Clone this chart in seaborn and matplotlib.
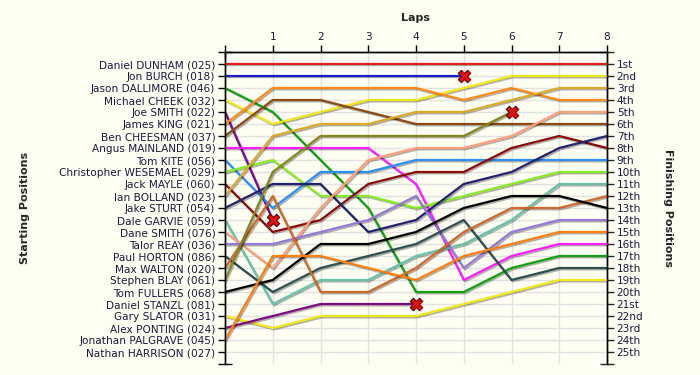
import matplotlib
matplotlib.use('Agg')
import matplotlib.pyplot as plt
import matplotlib.patheffects as pe
import seaborn as sns
import pandas as pd

# ---------------- data ----------------
laps = [0, 1, 2, 3, 4, 5, 6, 7, 8]

start_names = [
    "Daniel DUNHAM (025)", "Jon BURCH (018)", "Jason DALLIMORE (046)",
    "Michael CHEEK (032)", "Joe SMITH (022)", "James KING (021)",
    "Ben CHEESMAN (037)", "Angus MAINLAND (019)", "Tom KITE (056)",
    "Christopher WESEMAEL (029)", "Jack MAYLE (060)", "Ian BOLLAND (023)",
    "Jake STURT (054)", "Dale GARVIE (059)", "Dane SMITH (076)",
    "Talor REAY (036)", "Paul HORTON (086)", "Max WALTON (020)",
    "Stephen BLAY (061)", "Tom FULLERS (068)", "Daniel STANZL (081)",
    "Gary SLATOR (031)", "Alex PONTING (024)", "Jonathan PALGRAVE (045)",
    "Nathan HARRISON (027)",
]

finish_labels = [
    "1st", "2nd", "3rd", "4th", "5th", "6th", "7th", "8th", "9th", "10th",
    "11th", "12th", "13th", "14th", "15th", "16th", "17th", "18th", "19th",
    "20th", "21st", "22nd", "23rd", "24th", "25th",
]

# position after each lap (lap 0 = grid); a shorter list = retired at last lap
pos_dunham    = [1, 1, 1, 1, 1, 1, 1, 1, 1]
pos_burch     = [2, 2, 2, 2, 2, 2]
pos_dallimore = [3, 5, 9, 13, 20, 20, 18, 17, 17]
pos_cheek     = [4, 6, 5, 4, 4, 3, 2, 2, 2]
pos_jsmith    = [5, 14]
pos_king      = [6, 3, 3, 3, 3, 4, 3, 4, 4]
pos_cheesman  = [7, 4, 4, 5, 6, 6, 6, 6, 6]
pos_mainland  = [8, 8, 8, 8, 11, 19, 17, 16, 16]
pos_kite      = [9, 13, 10, 10, 9, 9, 9, 9, 9]
pos_wesemael  = [10, 9, 12, 12, 13, 12, 11, 10, 10]
pos_mayle     = [11, 15, 14, 11, 10, 10, 8, 7, 8]
pos_bolland   = [12, 7, 6, 6, 5, 5, 4, 3, 3]
pos_sturt     = [13, 11, 11, 15, 14, 11, 10, 8, 7]
pos_garvie    = [14, 21, 19, 19, 17, 16, 14, 11, 11]
pos_dsmith    = [15, 18, 13, 9, 8, 8, 7, 5, 5]
pos_reay      = [16, 16, 15, 14, 12, 18, 15, 14, 14]
pos_horton    = [17, 20, 18, 17, 16, 14, 19, 18, 18]
pos_walton    = [18, 12, 20, 20, 18, 15, 13, 13, 12]
pos_blay      = [19, 10, 7, 7, 7, 7, 5]
pos_fullers   = [20, 19, 16, 16, 15, 13, 12, 12, 13]
pos_slator    = [22, 23, 22, 22, 22, 21, 20, 19, 19]
pos_ponting   = [23, 22, 21, 21, 21]
pos_palgrave  = [24, 17, 17, 18, 19, 17, 16, 15, 15]

drivers = [
    ("Daniel DUNHAM (025)", pos_dunham, "#e02020"),
    ("Jon BURCH (018)", pos_burch, "#1c1ccc"),
    ("Jason DALLIMORE (046)", pos_dallimore, "#12a012"),
    ("Michael CHEEK (032)", pos_cheek, "#f5e61a"),
    ("Joe SMITH (022)", pos_jsmith, "#7b0a86"),
    ("James KING (021)", pos_king, "#ff8a1c"),
    ("Ben CHEESMAN (037)", pos_cheesman, "#8b4a14"),
    ("Angus MAINLAND (019)", pos_mainland, "#ff1eff"),
    ("Tom KITE (056)", pos_kite, "#2b8ff5"),
    ("Christopher WESEMAEL (029)", pos_wesemael, "#84ee22"),
    ("Jack MAYLE (060)", pos_mayle, "#8b0a0a"),
    ("Ian BOLLAND (023)", pos_bolland, "#dcaa2a"),
    ("Jake STURT (054)", pos_sturt, "#222270"),
    ("Dale GARVIE (059)", pos_garvie, "#68c4a8"),
    ("Dane SMITH (076)", pos_dsmith, "#ffa07a"),
    ("Talor REAY (036)", pos_reay, "#9578d8"),
    ("Paul HORTON (086)", pos_horton, "#2f4f4f"),
    ("Max WALTON (020)", pos_walton, "#d0682a"),
    ("Stephen BLAY (061)", pos_blay, "#85851a"),
    ("Tom FULLERS (068)", pos_fullers, "#000000"),
    ("Gary SLATOR (031)", pos_slator, "#f5e61a"),
    ("Alex PONTING (024)", pos_ponting, "#800a80"),
    ("Jonathan PALGRAVE (045)", pos_palgrave, "#ff7f10"),
]

# ---------------- build table ----------------
rows = []
for name, pos, col in drivers:
    for lap, p in zip(laps, pos):
        rows.append({"driver": name, "lap": lap, "pos": p})
df = pd.DataFrame(rows)
palette = {name: col for name, pos, col in drivers}
retired = [(len(pos) - 1, pos[-1]) for name, pos, col in drivers if len(pos) < len(laps)]
df_ret = pd.DataFrame(retired, columns=["lap", "pos"])

# ---------------- plot ----------------
sns.set_theme(style="white")
plt.rcParams['font.family'] = ['DejaVu Sans']
bg = "#fefef2"
fig = plt.figure(figsize=(7, 3.75), dpi=100, facecolor=bg)
ax = fig.add_axes([225 / 700, 1 - 364 / 375, (607 - 225) / 700, (364 - 52) / 375])
ax.set_facecolor(bg)

# grid
for p in range(1, 26):
    ax.axhline(p, color="#e2e2e2", lw=1, zorder=0)
for l in laps[1:]:
    ax.axvline(l, color="#e2e2e2", lw=1, zorder=0)

sns.lineplot(data=df, x="lap", y="pos", hue="driver", palette=palette,
             hue_order=[d[0] for d in drivers], estimator=None, sort=False,
             legend=False, linewidth=1.6, ax=ax, zorder=3)
for line in ax.lines:
    if line.get_zorder() == 3:
        line.set_path_effects([pe.SimpleLineShadow(offset=(1.0, -1.0), shadow_color="black", alpha=0.3),
                               pe.Normal()])

sns.scatterplot(data=df_ret, x="lap", y="pos", marker="X", s=80, color="#e01010",
                edgecolor="#600000", linewidth=0.8, ax=ax, zorder=6, legend=False)

ax.set_xlim(0, 8)
ax.set_ylim(26, 0)
ax.xaxis.tick_top()
ax.xaxis.set_label_position("top")
ax.set_xticks(laps[1:])
ax.set_xticklabels([str(l) for l in laps[1:]])
ax.set_xticks([0], minor=True)
ax.set_yticks(range(1, 26))
ax.set_yticklabels(start_names)
ax.set_yticks([0, 26], minor=True)
ax.set_xlabel("Laps", fontsize=8, fontweight="bold")
ax.xaxis.set_label_coords(0.5, 1.10)
ax.set_ylabel("Starting Positions", fontsize=8, fontweight="bold")
ax.yaxis.set_label_coords(-0.51, 0.5)
ax.tick_params(axis="both", which="major", labelsize=7.6, colors="black",
               labelcolor="#1a1a40", length=5, width=1, direction="out", pad=2)
ax.tick_params(axis="both", which="minor", length=10, width=1, direction="inout",
               colors="black")
ax.tick_params(axis="x", which="both", top=True, bottom=False)

ax2 = ax.twinx()
ax2.set_ylim(26, 0)
ax2.set_yticks(range(1, 26))
ax2.set_yticklabels(finish_labels)
ax2.set_yticks([0, 26], minor=True)
ax2.set_ylabel("Finishing Positions", fontsize=8, fontweight="bold", rotation=270,
               va="center")
ax2.yaxis.set_label_coords(1.16, 0.5)
ax2.tick_params(axis="y", labelsize=7.6, labelcolor="#1a1a40", length=5, width=1,
                direction="out", pad=2)
ax2.tick_params(axis="y", which="minor", length=10, width=1, direction="inout")

for a in (ax, ax2):
    for side in ("left", "right", "top"):
        a.spines[side].set_visible(True)
        a.spines[side].set_color("black")
        a.spines[side].set_linewidth(1)
    a.spines["bottom"].set_visible(False)
    a.grid(False)

fig.savefig("out.png", dpi=100, facecolor=bg)
